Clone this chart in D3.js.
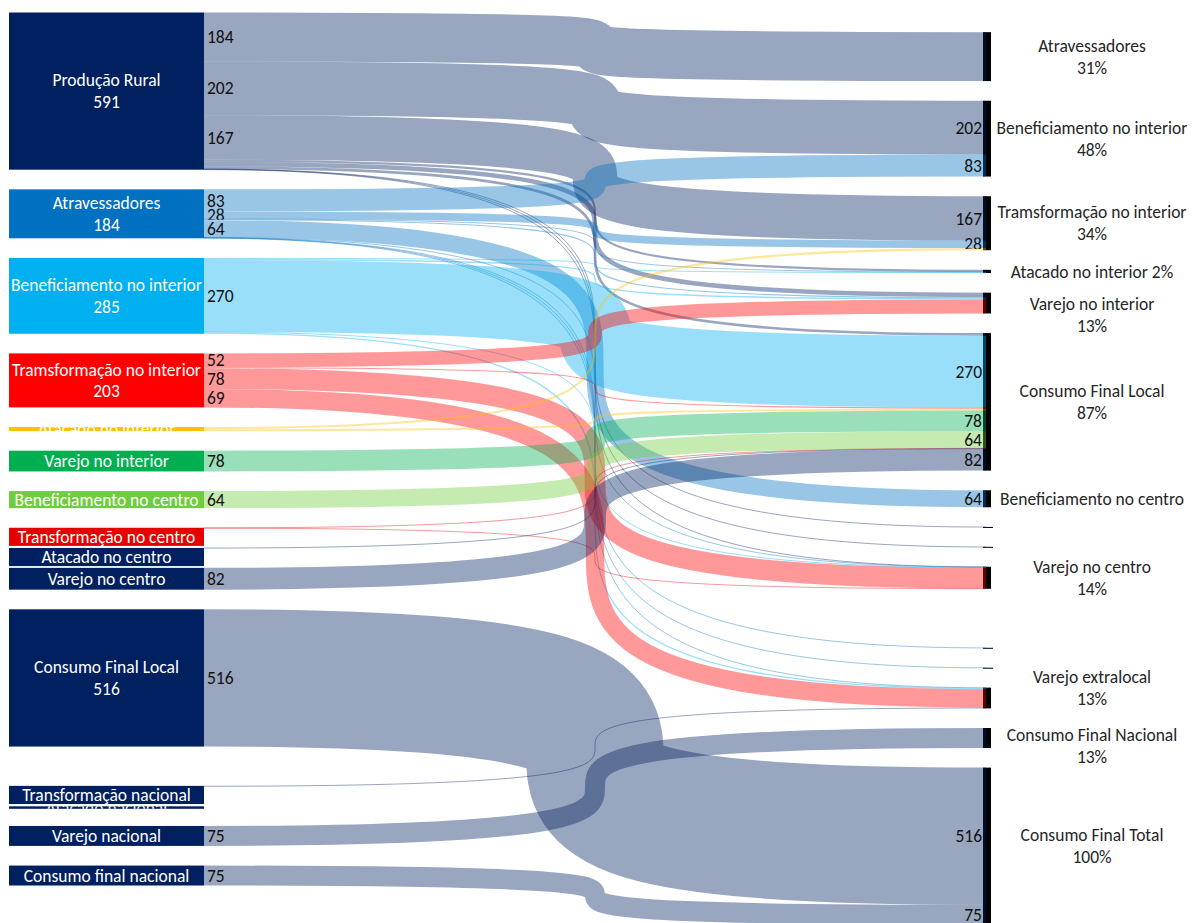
<!DOCTYPE html>
<html>
<head>
<meta charset="utf-8">
<script src="https://cdn.jsdelivr.net/npm/d3@7"></script>
<style>
  html, body { margin: 0; padding: 0; background: #fff; }
  svg text { font-family: Carlito, Calibri, Lato, sans-serif; }
</style>
</head>
<body>
<svg id="chart" width="1193" height="923"></svg>
<script>
// ---- data -------------------------------------------------------------
// Origin column (top to bottom); null keeps an empty slot in the stack.
const leftNodes = [
  "Produção Rural", "Atravessadores", "Beneficiamento no interior",
  "Tramsformação no interior", "Atacado no interior", "Varejo no interior",
  "Beneficiamento no centro", "Transformação no centro", "Atacado no centro",
  "Varejo no centro", "Consumo Final Local", null, "Transformação nacional",
  "Atacado nacional", "Varejo nacional", "Consumo final nacional"
];
const leftColors = [
  "#002060", "#0070c0", "#00b0f0", "#ff0000", "#ffc000", "#00b050",
  "#6ecd3c", "#e60000", "#002060", "#002060", "#002060", null, "#002060",
  "#002060", "#002060", "#002060"
];
// Origin boxes that also print their total under the name
const leftWithTotal = ["Produção Rural", "Atravessadores", "Beneficiamento no interior",
  "Tramsformação no interior", "Consumo Final Local"];
// Tiny origins whose box is drawn tall enough to hold the name
const leftNameBoxes = ["Transformação no centro", "Atacado no centro", "Transformação nacional"];

// Destination column (top to bottom)
const rightNodes = [
  null, "Atravessadores", "Beneficiamento no interior", "Tramsformação no interior",
  "Atacado no interior", "Varejo no interior", "Consumo Final Local",
  "Beneficiamento no centro", "Transformação no centro", "Atacado no centro",
  "Varejo no centro", null, null, "Transformação nacional", "Atacado nacional",
  "Varejo extralocal", "Consumo Final Nacional", "Consumo Final Total"
];
// How each destination caption is written
const rightCaption = {
  "Atravessadores": "stacked",
  "Beneficiamento no interior": "stacked",
  "Tramsformação no interior": "stacked",
  "Atacado no interior": "inline",
  "Varejo no interior": "stacked",
  "Consumo Final Local": "stacked",
  "Beneficiamento no centro": "name",
  "Varejo no centro": "stacked",
  "Varejo extralocal": "stacked",
  "Consumo Final Nacional": "stacked",
  "Consumo Final Total": "stacked"
};

// Flows: origin, destination, volume, which ends carry the number (s = origin, t = destination)
const flows = [
  ["Produção Rural", "Atravessadores", 184, "s"],
  ["Produção Rural", "Beneficiamento no interior", 202, "st"],
  ["Produção Rural", "Tramsformação no interior", 167, "st"],
  ["Produção Rural", "Atacado no interior", 8, ""],
  ["Produção Rural", "Varejo no interior", 17, ""],
  ["Produção Rural", "Consumo Final Local", 10, ""],
  ["Produção Rural", "Transformação no centro", 1, ""],
  ["Produção Rural", "Atacado no centro", 1, ""],
  ["Produção Rural", "Varejo no centro", 1, ""],
  ["Atravessadores", "Beneficiamento no interior", 83, "st"],
  ["Atravessadores", "Tramsformação no interior", 28, "st"],
  ["Atravessadores", "Atacado no interior", 1, ""],
  ["Atravessadores", "Varejo no interior", 4, ""],
  ["Atravessadores", "Beneficiamento no centro", 64, "st"],
  ["Atravessadores", "Varejo no centro", 1, ""],
  ["Atravessadores", "Transformação nacional", 1, ""],
  ["Atravessadores", "Atacado nacional", 1, ""],
  ["Atravessadores", "Varejo extralocal", 1, ""],
  ["Beneficiamento no interior", "Atacado no interior", 3, ""],
  ["Beneficiamento no interior", "Varejo no interior", 5, ""],
  ["Beneficiamento no interior", "Consumo Final Local", 270, "st"],
  ["Beneficiamento no interior", "Varejo no centro", 2, ""],
  ["Beneficiamento no interior", "Varejo extralocal", 5, ""],
  ["Tramsformação no interior", "Varejo no interior", 52, "s"],
  ["Tramsformação no interior", "Consumo Final Local", 4, ""],
  ["Tramsformação no interior", "Varejo no centro", 78, "s"],
  ["Tramsformação no interior", "Varejo extralocal", 69, "s"],
  ["Atacado no interior", "Tramsformação no interior", 8, ""],
  ["Atacado no interior", "Consumo Final Local", 7, ""],
  ["Varejo no interior", "Consumo Final Local", 78, "st"],
  ["Beneficiamento no centro", "Consumo Final Local", 64, "st"],
  ["Transformação no centro", "Consumo Final Local", 1, ""],
  ["Transformação no centro", "Varejo no centro", 1, ""],
  ["Atacado no centro", "Consumo Final Local", 1, ""],
  ["Varejo no centro", "Consumo Final Local", 82, "st"],
  ["Consumo Final Local", "Consumo Final Total", 516, "st"],
  ["Transformação nacional", "Varejo extralocal", 3, ""],
  ["Varejo nacional", "Consumo Final Nacional", 75, "s"],
  ["Consumo final nacional", "Consumo Final Total", 75, "st"]
];

// ---- layout -------------------------------------------------------------
const svg = d3.select("#chart");
const TOP = 12.5, GAP = 19.65;
const LEFT_X0 = 9, LEFT_X1 = 204;      // origin boxes
const BAR_X0 = 983, BAR_W = 8;         // destination bars
const LINK_X1 = 986;                   // ribbons run slightly into the bars
const CAPTION_X = 1092;
const FONT = 17.5;

const total = d3.sum(flows.filter(f => f[1] === "Consumo Final Total"), f => f[2]);
const k = d3.scaleLinear().domain([0, total]).range([0, 157.2]);

const outSum = d3.rollup(flows, v => d3.sum(v, f => f[2]), f => f[0]);
const inSum = d3.rollup(flows, v => d3.sum(v, f => f[2]), f => f[1]);

function stack(list, sums) {
  let y = TOP;
  return list.map((name, i) => {
    const value = name ? (sums.get(name) || 0) : 0;
    const h = k(value);
    const n = { name, index: i, value, y0: y, y1: y + h };
    y += h + GAP;
    return n;
  });
}
const L = stack(leftNodes, outSum);
const R = stack(rightNodes, inSum);
const Lby = new Map(L.filter(n => n.name).map(n => [n.name, n]));
const Rby = new Map(R.filter(n => n.name).map(n => [n.name, n]));

const links = flows.map(([s, t, v, lab]) => ({ s: Lby.get(s), t: Rby.get(t), value: v, lab, w: k(v) }));

// stack ribbons at each end in the order of the opposite end
d3.group(links, d => d.s.name).forEach(arr => {
  arr.sort((a, b) => a.t.index - b.t.index);
  let y = arr[0].s.y0;
  arr.forEach(d => { d.sy0 = y; y += d.w; d.sy1 = y; });
});
d3.group(links, d => d.t.name).forEach(arr => {
  arr.sort((a, b) => a.s.index - b.s.index);
  let y = arr[0].t.y0;
  arr.forEach(d => { d.ty0 = y; y += d.w; d.ty1 = y; });
});

const defs = svg.append("defs");
let clipId = 0;
function clipRect(x, y, w, h) {
  const id = "c" + (clipId++);
  defs.append("clipPath").attr("id", id).append("rect")
    .attr("x", x).attr("y", y).attr("width", w).attr("height", h);
  return `url(#${id})`;
}

// ---- destination bars -------------------------------------------------
svg.append("g").selectAll("rect")
  .data(R.filter(n => n.name))
  .join("rect")
  .attr("x", BAR_X0)
  .attr("y", d => d.y0)
  .attr("width", d => d.value < 2 ? BAR_W + 2 : BAR_W)
  .attr("height", d => Math.max(d.y1 - d.y0, 1))
  .attr("fill", "#000");

// ---- ribbons ------------------------------------------------------------
const colorOf = new Map(leftNodes.map((n, i) => [n, leftColors[i]]));
const ribbon = d => {
  const y0 = (d.sy0 + d.sy1) / 2, y1 = (d.ty0 + d.ty1) / 2;
  return `M${LEFT_X1},${y0}C${LINK_X1},${y0} ${LEFT_X1},${y1} ${LINK_X1},${y1}`;
};
svg.append("g").attr("fill", "none")
  .selectAll("path")
  .data(links)
  .join("path")
  .attr("d", ribbon)
  .attr("stroke", d => colorOf.get(d.s.name))
  .attr("stroke-opacity", 0.4)
  .attr("stroke-width", d => Math.max(d.w, 1));

// ---- origin boxes -------------------------------------------------------
const leftShown = L.filter(n => n.name);
leftShown.forEach(n => {
  n.by0 = n.y0;
  n.by1 = leftNameBoxes.includes(n.name) ? n.y0 + GAP - 1.5 : Math.max(n.y1, n.y0 + 2.5);
});
const lg = svg.append("g");
lg.selectAll("rect")
  .data(leftShown)
  .join("rect")
  .attr("x", LEFT_X0)
  .attr("y", d => d.by0)
  .attr("width", LEFT_X1 - LEFT_X0)
  .attr("height", d => d.by1 - d.by0)
  .attr("fill", d => colorOf.get(d.name));

leftShown.forEach(n => {
  const cx = (LEFT_X0 + LEFT_X1) / 2, cy = (n.by0 + n.by1) / 2;
  const t = lg.append("text")
    .attr("clip-path", clipRect(LEFT_X0, n.by0, LEFT_X1 - LEFT_X0, n.by1 - n.by0))
    .attr("text-anchor", "middle")
    .attr("fill", "#fff")
    .attr("font-size", FONT);
  const lines = leftWithTotal.includes(n.name) ? [n.name, String(n.value)] : [n.name];
  lines.forEach((s, i) => {
    t.append("tspan")
      .attr("x", cx)
      .attr("y", cy + (i - (lines.length - 1) / 2) * 21.5)
      .attr("dy", "0.35em")
      .text(s);
  });
});

// ---- flow numbers -------------------------------------------------------
const vg = svg.append("g").attr("font-size", FONT).attr("fill", "#111");
links.forEach(d => {
  if (d.lab.includes("s")) {
    vg.append("text")
      .attr("clip-path", clipRect(LEFT_X1, d.sy0 - 3, 60, d.sy1 - d.sy0 + 4))
      .attr("x", LEFT_X1 + 3)
      .attr("y", (d.sy0 + d.sy1) / 2)
      .attr("dy", "0.35em")
      .text(d.value);
  }
  if (d.lab.includes("t")) {
    vg.append("text")
      .attr("clip-path", clipRect(BAR_X0 - 60, d.ty0 - 3, 60, d.ty1 - d.ty0 + 4))
      .attr("x", BAR_X0 - 1)
      .attr("y", (d.ty0 + d.ty1) / 2)
      .attr("dy", "0.35em")
      .attr("text-anchor", "end")
      .text(d.value);
  }
});

// ---- destination captions ----------------------------------------------
const pct = d3.format(".0%");
const rightShift = { "Varejo no interior": 12, "Varejo extralocal": -10, "Consumo Final Nacional": 8 };
const cg = svg.append("g").attr("font-size", FONT).attr("fill", "#262626").attr("text-anchor", "middle");
R.filter(n => n.name && rightCaption[n.name]).forEach(n => {
  const mode = rightCaption[n.name];
  const share = pct(n.value / total);
  const lines = mode === "stacked" ? [n.name, share] : mode === "inline" ? [n.name + " " + share] : [n.name];
  const cy = (n.y0 + n.y1) / 2 + (rightShift[n.name] || 0);
  const t = cg.append("text");
  lines.forEach((s, i) => {
    t.append("tspan")
      .attr("x", CAPTION_X)
      .attr("y", cy + (i - (lines.length - 1) / 2) * 22)
      .attr("dy", "0.35em")
      .text(s);
  });
});
</script>
</body>
</html>
